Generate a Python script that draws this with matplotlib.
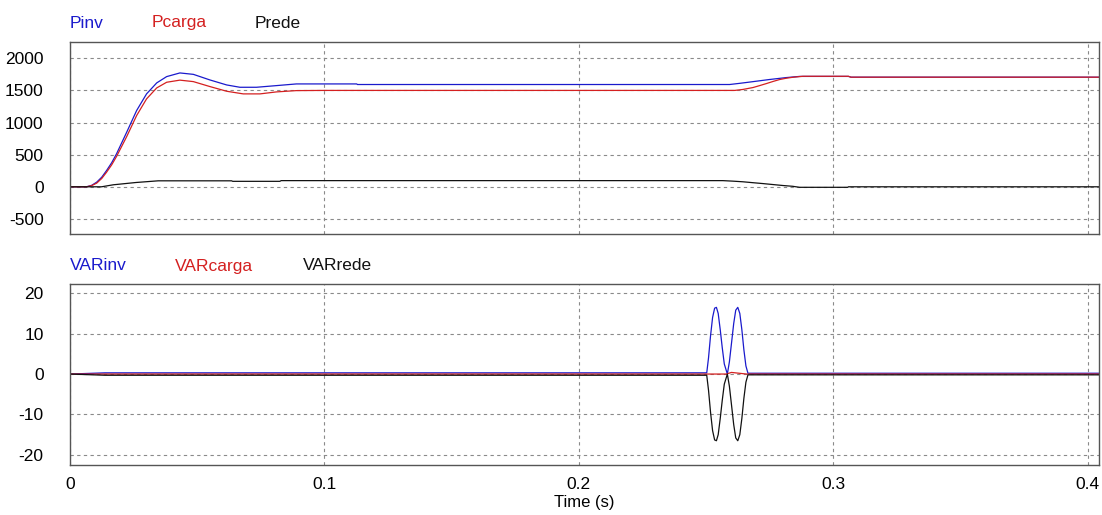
import matplotlib.pyplot as plt

plt.rcParams['font.family'] = ['Liberation Sans', 'DejaVu Sans']

# --- dados (tempo em s) ---
t_pinv = [0.0, 0.0065, 0.0085, 0.0105, 0.0125, 0.0144, 0.0164, 0.0183, 0.0223, 0.0262,
          0.0301, 0.0341, 0.0380, 0.0432, 0.0485, 0.0550, 0.0616, 0.0668, 0.0733, 0.0812,
          0.0890, 0.1127, 0.1130, 0.2593, 0.2632, 0.2672, 0.2711, 0.2750, 0.2790, 0.2816,
          0.2868, 0.3060, 0.3070, 0.4045]
pinv = [0, 0, 22, 72, 150, 254, 375, 513, 850, 1187,
        1446, 1617, 1715, 1772, 1750, 1663, 1585, 1549, 1549, 1575,
        1601, 1601, 1592, 1592, 1610, 1630, 1650, 1670, 1688, 1700,
        1718, 1718, 1706, 1706]

t_pcarga = [0.0, 0.0065, 0.0085, 0.0105, 0.0125, 0.0144, 0.0164, 0.0183, 0.0223, 0.0262,
            0.0301, 0.0341, 0.0380, 0.0432, 0.0485, 0.0550, 0.0616, 0.0681, 0.0747, 0.0812,
            0.0890, 0.1000, 0.2613, 0.2645, 0.2685, 0.2711, 0.2737, 0.2764, 0.2790, 0.2816,
            0.2842, 0.2881, 0.3060, 0.3070, 0.4045]
pcarga = [0, 0, 18, 57, 130, 228, 342, 472, 782, 1109,
          1368, 1539, 1627, 1660, 1637, 1560, 1487, 1446, 1446, 1477,
          1497, 1500, 1500, 1515, 1545, 1575, 1606, 1640, 1670, 1690,
          1705, 1720, 1720, 1706, 1706]

t_prede = [0.0, 0.0124, 0.0170, 0.0260, 0.0347, 0.0635, 0.0640, 0.0825, 0.0830,
           0.2566, 0.2605, 0.2645, 0.2684, 0.2724, 0.2763, 0.2802, 0.2840, 0.2868,
           0.3057, 0.3060, 0.4045]
prede = [0, 0, 31, 67, 93, 93, 85, 85, 96,
         96, 88, 78, 64, 50, 35, 20, 8, -8,
         -8, 0, 0]

t_var = [0.0, 0.0138, 0.2503, 0.2510, 0.2518, 0.2526, 0.2534, 0.2541, 0.2548, 0.2556,
         0.2564, 0.2572, 0.2584, 0.2592, 0.2601, 0.2609, 0.2617, 0.2625, 0.2633, 0.2641,
         0.2649, 0.2657, 0.2665, 0.4045]
varinv = [0.0, 0.3, 0.3, 4.0, 9.5, 14.0, 16.3, 16.5, 15.0, 11.0,
          6.5, 2.5, 0.0, 3.0, 8.0, 12.5, 15.8, 16.5, 15.0, 11.0,
          6.0, 2.0, 0.2, 0.2]
varrede = [0.0, -0.3, -0.3, -4.0, -9.5, -14.0, -16.3, -16.5, -15.0, -11.0,
           -6.5, -2.5, 0.0, -3.0, -8.0, -12.5, -15.8, -16.5, -15.0, -11.0,
           -6.0, -2.0, -0.2, -0.2]
t_varcarga = [0.0, 0.2580, 0.2600, 0.2660, 0.4045]
varcarga = [0.0, 0.0, 0.4, 0.0, 0.0]

x_ticks = [0, 0.1, 0.2, 0.3, 0.4]
p_ticks = [2000, 1500, 1000, 500, 0, -500]
var_ticks = [20, 10, 0, -10, -20]

azul = '#1a1acc'
vermelho = '#d42020'
preto = '#111111'

fig = plt.figure(figsize=(11.02, 5.15), dpi=100)
ax1 = fig.add_axes([0.0635, 0.5456, 0.9338, 0.3724])
ax2 = fig.add_axes([0.0635, 0.0971, 0.9338, 0.3524])


def estilo(ax, yticks, ylim):
    ax.set_xlim(0, 0.4045)
    ax.set_ylim(*ylim)
    ax.set_xticks(x_ticks)
    ax.set_yticks(yticks)
    ax.set_yticklabels([str(v) for v in yticks])
    ax.grid(True, color='#8a8a8a', linestyle=(0, (3, 3)), linewidth=0.8)
    ax.tick_params(length=0, labelsize=12.5, pad=9)
    ax.tick_params(axis='y', pad=19)
    for s in ax.spines.values():
        s.set_color('#555555')
        s.set_linewidth(1.0)


ax1.plot(t_pinv, pinv, color=azul, lw=0.9)
ax1.plot(t_pcarga, pcarga, color=vermelho, lw=0.9)
ax1.plot(t_prede, prede, color=preto, lw=0.9)
estilo(ax1, p_ticks, (-735, 2250))
ax1.set_xticklabels([])

ax2.plot(t_var, varinv, color=azul, lw=0.9)
ax2.plot(t_varcarga, varcarga, color=vermelho, lw=0.9)
ax2.plot(t_var, varrede, color=preto, lw=0.9)
estilo(ax2, var_ticks, (-22.5, 22.4))
ax2.set_xticklabels(['0', '0.1', '0.2', '0.3', '0.4'])
ax2.set_xlabel('Time (s)', fontsize=12, labelpad=2)

# rótulos das curvas acima de cada gráfico
fig.text(70 / 1102, 1 - 23 / 515, 'Pinv', color=azul, fontsize=12.5, va='center')
fig.text(152 / 1102, 1 - 23 / 515, 'Pcarga', color=vermelho, fontsize=12.5, va='center')
fig.text(255 / 1102, 1 - 23 / 515, 'Prede', color=preto, fontsize=12.5, va='center')
fig.text(70 / 1102, 1 - 266 / 515, 'VARinv', color=azul, fontsize=12.5, va='center')
fig.text(175 / 1102, 1 - 266 / 515, 'VARcarga', color=vermelho, fontsize=12.5, va='center')
fig.text(303 / 1102, 1 - 266 / 515, 'VARrede', color=preto, fontsize=12.5, va='center')

plt.savefig('out.png', dpi=100)
